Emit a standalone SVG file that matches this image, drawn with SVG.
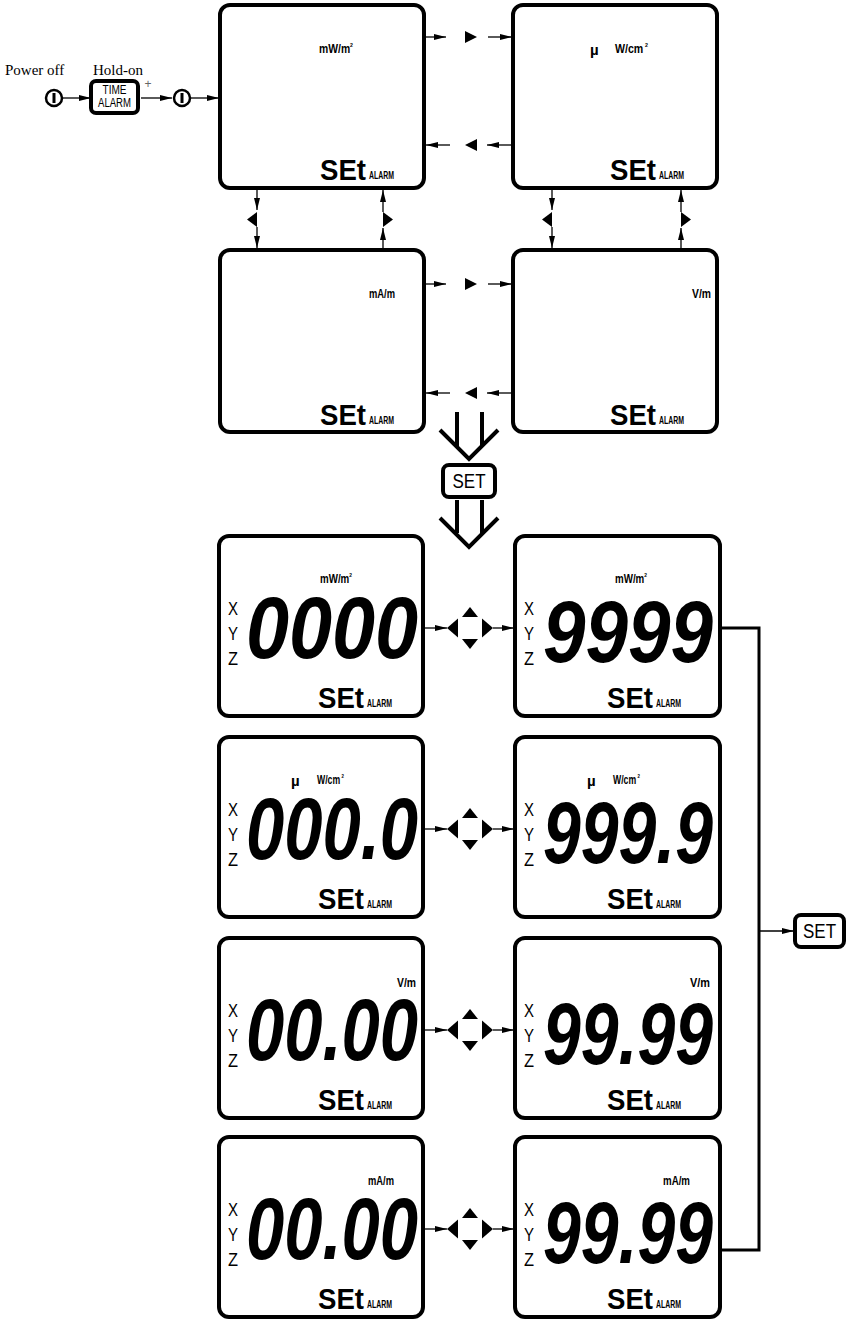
<svg xmlns="http://www.w3.org/2000/svg" width="847" height="1323" viewBox="0 0 847 1323">
<style>
.box{fill:#fff;stroke:#000;stroke-width:4}
.btn{fill:#fff;stroke:#000;stroke-width:4}
.ln{fill:none;stroke:#000;stroke-width:1.3}
.thick{fill:none;stroke:#000;stroke-width:4}
.tri{fill:#000}
.unit{font-family:"Liberation Sans",Arial,sans-serif;font-weight:bold;font-size:12px;fill:#000}
.sp{font-size:6px}
.mu{font-family:"Liberation Sans",Arial,sans-serif;font-weight:bold;font-size:15px;fill:#000}
.set7{font-family:"Liberation Sans",Arial,sans-serif;font-weight:bold;font-size:29px;fill:#000}
.alarm{font-family:"Liberation Sans",Arial,sans-serif;font-weight:bold;font-size:10px;fill:#000}
.dig{font-family:"Liberation Sans",Arial,sans-serif;font-weight:bold;font-style:italic;font-size:88px;fill:#000}
.xyz{font-family:"Liberation Sans",Arial,sans-serif;font-size:19px;fill:#000}
.serif{font-family:"Liberation Serif","Times New Roman",serif;font-size:15px;fill:#000}
.btxt{font-family:"Liberation Sans",Arial,sans-serif;font-size:20px;fill:#000;text-anchor:middle}
.small{font-family:"Liberation Sans",Arial,sans-serif;font-size:12px;fill:#000;text-anchor:middle}
</style>
<defs>
<marker id="ah" viewBox="0 0 12 6" refX="12" refY="3" markerWidth="12" markerHeight="6" markerUnits="userSpaceOnUse" orient="auto"><path d="M0,0 L12,3 L0,6 Z" fill="#000"/></marker>
</defs>

<g id="start">
<text class="serif" x="5" y="75">Power off</text>
<text class="serif" x="93" y="75">Hold-on</text>
<circle cx="54" cy="98" r="8" fill="#fff" stroke="#000" stroke-width="2.5"/>
<line x1="54" y1="93" x2="54" y2="103" stroke="#000" stroke-width="3"/>
<rect class="btn" x="91" y="81" width="47" height="32" rx="5"/>
<text class="small" x="114.5" y="94" textLength="24" lengthAdjust="spacingAndGlyphs">TIME</text>
<text class="small" x="114.5" y="107" textLength="33" lengthAdjust="spacingAndGlyphs">ALARM</text>
<text x="148" y="88" font-family="Liberation Sans, Arial, sans-serif" font-size="12" fill="#666" text-anchor="middle">+</text>
<circle cx="182" cy="98" r="8" fill="#fff" stroke="#000" stroke-width="2.5"/>
<line x1="182" y1="93" x2="182" y2="103" stroke="#000" stroke-width="3"/>
</g>

<g id="box-a1">
<rect class="box" x="220" y="5" width="204" height="183" rx="10"/>
<text class="unit" x="319" y="53" textLength="34" lengthAdjust="spacingAndGlyphs">mW/m<tspan class="sp" dy="-6">2</tspan></text>
<text class="set7" x="320" y="180" textLength="46" lengthAdjust="spacingAndGlyphs">SEt</text>
<text class="alarm" x="369" y="179" textLength="25" lengthAdjust="spacingAndGlyphs">ALARM</text>
</g>
<g id="box-a2">
<rect class="box" x="513" y="5" width="204" height="183" rx="10"/>
<text class="mu" x="590" y="55">µ</text>
<text class="unit" x="615" y="53" textLength="33" lengthAdjust="spacingAndGlyphs">W/cm<tspan class="sp" dx="2" dy="-6">2</tspan></text>
<text class="set7" x="610" y="180" textLength="46" lengthAdjust="spacingAndGlyphs">SEt</text>
<text class="alarm" x="659" y="179" textLength="25" lengthAdjust="spacingAndGlyphs">ALARM</text>
</g>
<g id="box-b1">
<rect class="box" x="220" y="250" width="204" height="182" rx="10"/>
<text class="unit" x="369" y="298" textLength="26" lengthAdjust="spacingAndGlyphs">mA/m</text>
<text class="set7" x="320" y="425" textLength="46" lengthAdjust="spacingAndGlyphs">SEt</text>
<text class="alarm" x="369" y="424" textLength="25" lengthAdjust="spacingAndGlyphs">ALARM</text>
</g>
<g id="box-b2">
<rect class="box" x="513" y="250" width="204" height="182" rx="10"/>
<text class="unit" x="692" y="298" textLength="19" lengthAdjust="spacingAndGlyphs">V/m</text>
<text class="set7" x="610" y="425" textLength="46" lengthAdjust="spacingAndGlyphs">SEt</text>
<text class="alarm" x="659" y="424" textLength="25" lengthAdjust="spacingAndGlyphs">ALARM</text>
</g>

<g id="set-mid">
<rect class="btn" x="443" y="465" width="52" height="32" rx="6"/>
<text class="btxt" x="469" y="488" textLength="33" lengthAdjust="spacingAndGlyphs">SET</text>
</g>

<g id="row1-left">
<rect class="box" x="219" y="536" width="204" height="180" rx="10"/>
<text class="unit" x="320" y="583" textLength="32" lengthAdjust="spacingAndGlyphs">mW/m<tspan class="sp" dy="-6">2</tspan></text>
<text class="xyz" x="228" y="615" textLength="10" lengthAdjust="spacingAndGlyphs">X</text>
<text class="xyz" x="228" y="640" textLength="10" lengthAdjust="spacingAndGlyphs">Y</text>
<text class="xyz" x="228" y="665" textLength="10" lengthAdjust="spacingAndGlyphs">Z</text>
<text class="dig" x="246" y="658" textLength="172" lengthAdjust="spacingAndGlyphs">0000</text>
<text class="set7" x="318" y="708" textLength="46" lengthAdjust="spacingAndGlyphs">SEt</text>
<text class="alarm" x="367" y="707" textLength="25" lengthAdjust="spacingAndGlyphs">ALARM</text>
</g>
<g id="row1-right">
<rect class="box" x="515" y="536" width="205" height="180" rx="10"/>
<text class="unit" x="615" y="583" textLength="32" lengthAdjust="spacingAndGlyphs">mW/m<tspan class="sp" dy="-6">2</tspan></text>
<text class="xyz" x="524" y="615" textLength="10" lengthAdjust="spacingAndGlyphs">X</text>
<text class="xyz" x="524" y="640" textLength="10" lengthAdjust="spacingAndGlyphs">Y</text>
<text class="xyz" x="524" y="665" textLength="10" lengthAdjust="spacingAndGlyphs">Z</text>
<text class="dig" x="543" y="662" textLength="170" lengthAdjust="spacingAndGlyphs">9999</text>
<text class="set7" x="607" y="708" textLength="46" lengthAdjust="spacingAndGlyphs">SEt</text>
<text class="alarm" x="656" y="707" textLength="25" lengthAdjust="spacingAndGlyphs">ALARM</text>
</g>

<g id="row2-left">
<rect class="box" x="219" y="737" width="204" height="180" rx="10"/>
<text class="mu" x="291" y="786">µ</text>
<text class="unit" x="317" y="784" textLength="27" lengthAdjust="spacingAndGlyphs">W/cm<tspan class="sp" dx="2" dy="-6">2</tspan></text>
<text class="xyz" x="228" y="816" textLength="10" lengthAdjust="spacingAndGlyphs">X</text>
<text class="xyz" x="228" y="841" textLength="10" lengthAdjust="spacingAndGlyphs">Y</text>
<text class="xyz" x="228" y="866" textLength="10" lengthAdjust="spacingAndGlyphs">Z</text>
<text class="dig" x="246" y="859" textLength="172" lengthAdjust="spacingAndGlyphs">000.0</text>
<text class="set7" x="318" y="909" textLength="46" lengthAdjust="spacingAndGlyphs">SEt</text>
<text class="alarm" x="367" y="908" textLength="25" lengthAdjust="spacingAndGlyphs">ALARM</text>
</g>
<g id="row2-right">
<rect class="box" x="515" y="737" width="205" height="180" rx="10"/>
<text class="mu" x="587" y="786">µ</text>
<text class="unit" x="613" y="784" textLength="27" lengthAdjust="spacingAndGlyphs">W/cm<tspan class="sp" dx="2" dy="-6">2</tspan></text>
<text class="xyz" x="524" y="816" textLength="10" lengthAdjust="spacingAndGlyphs">X</text>
<text class="xyz" x="524" y="841" textLength="10" lengthAdjust="spacingAndGlyphs">Y</text>
<text class="xyz" x="524" y="866" textLength="10" lengthAdjust="spacingAndGlyphs">Z</text>
<text class="dig" x="543" y="863" textLength="170" lengthAdjust="spacingAndGlyphs">999.9</text>
<text class="set7" x="607" y="909" textLength="46" lengthAdjust="spacingAndGlyphs">SEt</text>
<text class="alarm" x="656" y="908" textLength="25" lengthAdjust="spacingAndGlyphs">ALARM</text>
</g>

<g id="row3-left">
<rect class="box" x="219" y="938" width="204" height="180" rx="10"/>
<text class="unit" x="397" y="987" textLength="19" lengthAdjust="spacingAndGlyphs">V/m</text>
<text class="xyz" x="228" y="1017" textLength="10" lengthAdjust="spacingAndGlyphs">X</text>
<text class="xyz" x="228" y="1042" textLength="10" lengthAdjust="spacingAndGlyphs">Y</text>
<text class="xyz" x="228" y="1067" textLength="10" lengthAdjust="spacingAndGlyphs">Z</text>
<text class="dig" x="246" y="1060" textLength="172" lengthAdjust="spacingAndGlyphs">00.00</text>
<text class="set7" x="318" y="1110" textLength="46" lengthAdjust="spacingAndGlyphs">SEt</text>
<text class="alarm" x="367" y="1109" textLength="25" lengthAdjust="spacingAndGlyphs">ALARM</text>
</g>
<g id="row3-right">
<rect class="box" x="515" y="938" width="205" height="180" rx="10"/>
<text class="unit" x="690" y="987" textLength="20" lengthAdjust="spacingAndGlyphs">V/m</text>
<text class="xyz" x="524" y="1017" textLength="10" lengthAdjust="spacingAndGlyphs">X</text>
<text class="xyz" x="524" y="1042" textLength="10" lengthAdjust="spacingAndGlyphs">Y</text>
<text class="xyz" x="524" y="1067" textLength="10" lengthAdjust="spacingAndGlyphs">Z</text>
<text class="dig" x="543" y="1064" textLength="170" lengthAdjust="spacingAndGlyphs">99.99</text>
<text class="set7" x="607" y="1110" textLength="46" lengthAdjust="spacingAndGlyphs">SEt</text>
<text class="alarm" x="656" y="1109" textLength="25" lengthAdjust="spacingAndGlyphs">ALARM</text>
</g>

<g id="row4-left">
<rect class="box" x="219" y="1137" width="204" height="180" rx="10"/>
<text class="unit" x="368" y="1185" textLength="26" lengthAdjust="spacingAndGlyphs">mA/m</text>
<text class="xyz" x="228" y="1216" textLength="10" lengthAdjust="spacingAndGlyphs">X</text>
<text class="xyz" x="228" y="1241" textLength="10" lengthAdjust="spacingAndGlyphs">Y</text>
<text class="xyz" x="228" y="1266" textLength="10" lengthAdjust="spacingAndGlyphs">Z</text>
<text class="dig" x="246" y="1259" textLength="172" lengthAdjust="spacingAndGlyphs">00.00</text>
<text class="set7" x="318" y="1309" textLength="46" lengthAdjust="spacingAndGlyphs">SEt</text>
<text class="alarm" x="367" y="1308" textLength="25" lengthAdjust="spacingAndGlyphs">ALARM</text>
</g>
<g id="row4-right">
<rect class="box" x="515" y="1137" width="205" height="180" rx="10"/>
<text class="unit" x="663" y="1185" textLength="27" lengthAdjust="spacingAndGlyphs">mA/m</text>
<text class="xyz" x="524" y="1216" textLength="10" lengthAdjust="spacingAndGlyphs">X</text>
<text class="xyz" x="524" y="1241" textLength="10" lengthAdjust="spacingAndGlyphs">Y</text>
<text class="xyz" x="524" y="1266" textLength="10" lengthAdjust="spacingAndGlyphs">Z</text>
<text class="dig" x="543" y="1263" textLength="170" lengthAdjust="spacingAndGlyphs">99.99</text>
<text class="set7" x="607" y="1309" textLength="46" lengthAdjust="spacingAndGlyphs">SEt</text>
<text class="alarm" x="656" y="1308" textLength="25" lengthAdjust="spacingAndGlyphs">ALARM</text>
</g>

<g id="set-right">
<rect class="btn" x="795" y="915" width="49" height="32" rx="6"/>
<text class="btxt" x="819.5" y="938" textLength="33" lengthAdjust="spacingAndGlyphs">SET</text>
</g>

<g id="connectors">
<line class="ln" x1="63" y1="98" x2="91" y2="98" marker-end="url(#ah)"/>
<line class="ln" x1="141" y1="98" x2="172" y2="98" marker-end="url(#ah)"/>
<line class="ln" x1="191" y1="98" x2="219" y2="98" marker-end="url(#ah)"/>

<line class="ln" x1="426" y1="37" x2="446" y2="37" marker-end="url(#ah)"/>
<polygon class="tri" points="465,31 477,37 465,43"/>
<line class="ln" x1="488" y1="37" x2="512" y2="37" marker-end="url(#ah)"/>
<line class="ln" x1="450" y1="145" x2="426" y2="145" marker-end="url(#ah)"/>
<polygon class="tri" points="477,139 465,145 477,151"/>
<line class="ln" x1="512" y1="145" x2="487" y2="145" marker-end="url(#ah)"/>

<line class="ln" x1="426" y1="284" x2="446" y2="284" marker-end="url(#ah)"/>
<polygon class="tri" points="465,278 477,284 465,290"/>
<line class="ln" x1="488" y1="284" x2="512" y2="284" marker-end="url(#ah)"/>
<line class="ln" x1="450" y1="393" x2="426" y2="393" marker-end="url(#ah)"/>
<polygon class="tri" points="477,387 465,393 477,399"/>
<line class="ln" x1="512" y1="393" x2="487" y2="393" marker-end="url(#ah)"/>

<line class="ln" x1="257" y1="190" x2="257" y2="210" marker-end="url(#ah)"/>
<polygon class="tri" points="257,212 247,219.5 257,227"/>
<line class="ln" x1="257" y1="227" x2="257" y2="248" marker-end="url(#ah)"/>
<line class="ln" x1="383" y1="212" x2="383" y2="190" marker-end="url(#ah)"/>
<polygon class="tri" points="383,212 393,219.5 383,227"/>
<line class="ln" x1="383" y1="248" x2="383" y2="228" marker-end="url(#ah)"/>

<line class="ln" x1="552" y1="190" x2="552" y2="210" marker-end="url(#ah)"/>
<polygon class="tri" points="552,212 542,219.5 552,227"/>
<line class="ln" x1="552" y1="227" x2="552" y2="248" marker-end="url(#ah)"/>
<line class="ln" x1="681" y1="212" x2="681" y2="190" marker-end="url(#ah)"/>
<polygon class="tri" points="681,212 691,219.5 681,227"/>
<line class="ln" x1="681" y1="248" x2="681" y2="228" marker-end="url(#ah)"/>

<line class="thick" x1="457" y1="412" x2="457" y2="446"/>
<line class="thick" x1="482" y1="412" x2="482" y2="446"/>
<polyline class="thick" points="440,430 469,459 498,430"/>
<line class="thick" x1="457" y1="500" x2="457" y2="533"/>
<line class="thick" x1="482" y1="500" x2="482" y2="533"/>
<polyline class="thick" points="440,518 469,547 498,518"/>

<g id="cluster1">
<line class="ln" x1="425" y1="628" x2="447" y2="628" marker-end="url(#ah)"/>
<polygon class="tri" points="458,618.5 447,628 458,637.5"/>
<polygon class="tri" points="462,617 478,617 470,607"/>
<polygon class="tri" points="462,639 478,639 470,649"/>
<polygon class="tri" points="482,618.5 493,628 482,637.5"/>
<line class="ln" x1="493" y1="628" x2="514" y2="628" marker-end="url(#ah)"/>
</g>
<g id="cluster2">
<line class="ln" x1="425" y1="829" x2="447" y2="829" marker-end="url(#ah)"/>
<polygon class="tri" points="458,819.5 447,829 458,838.5"/>
<polygon class="tri" points="462,818 478,818 470,808"/>
<polygon class="tri" points="462,840 478,840 470,850"/>
<polygon class="tri" points="482,819.5 493,829 482,838.5"/>
<line class="ln" x1="493" y1="829" x2="514" y2="829" marker-end="url(#ah)"/>
</g>
<g id="cluster3">
<line class="ln" x1="425" y1="1030" x2="447" y2="1030" marker-end="url(#ah)"/>
<polygon class="tri" points="458,1020.5 447,1030 458,1039.5"/>
<polygon class="tri" points="462,1019 478,1019 470,1009"/>
<polygon class="tri" points="462,1041 478,1041 470,1051"/>
<polygon class="tri" points="482,1020.5 493,1030 482,1039.5"/>
<line class="ln" x1="493" y1="1030" x2="514" y2="1030" marker-end="url(#ah)"/>
</g>
<g id="cluster4">
<line class="ln" x1="425" y1="1229" x2="447" y2="1229" marker-end="url(#ah)"/>
<polygon class="tri" points="458,1219.5 447,1229 458,1238.5"/>
<polygon class="tri" points="462,1218 478,1218 470,1208"/>
<polygon class="tri" points="462,1240 478,1240 470,1250"/>
<polygon class="tri" points="482,1219.5 493,1229 482,1238.5"/>
<line class="ln" x1="493" y1="1229" x2="514" y2="1229" marker-end="url(#ah)"/>
</g>

<polyline fill="none" stroke="#000" stroke-width="3" points="722,628 759,628 759,1250 722,1250"/>
<line class="ln" x1="759" y1="931" x2="794" y2="931" marker-end="url(#ah)"/>
</g>
</svg>
